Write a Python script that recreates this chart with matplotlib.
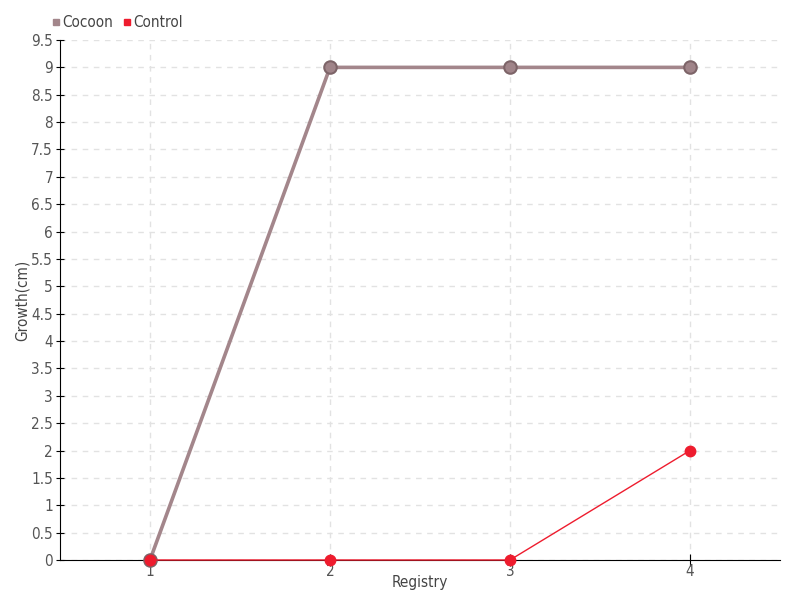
import matplotlib
matplotlib.use('Agg')
import matplotlib.pyplot as plt
from matplotlib.lines import Line2D

registry = [1, 2, 3, 4]
cocoon = [0, 9, 9, 9]
control = [0, 0, 0, 2]
yticks = [i * 0.5 for i in range(20)]

plt.rcParams['font.family'] = ['DejaVu Sans']
plt.rcParams['font.stretch'] = 'condensed'

fig = plt.figure(figsize=(8, 6), dpi=100)
ax = fig.add_axes([0.075, 0.0667, 0.9, 0.8666])

cocoon_col = '#a3868b'
control_col = '#ee1c2e'

ax.plot(registry, cocoon, color=cocoon_col, lw=2.6, marker='o', ms=9,
        mfc='#a08489', mec='#7d6468', mew=1.5, zorder=3, clip_on=False)
ax.plot(registry, control, color=control_col, lw=1, marker='o', ms=7.5,
        mfc=control_col, mec=control_col, zorder=4, clip_on=False)

ax.set_xlim(0.5, 4.5)
ax.set_ylim(0, 9.5)
ax.set_xticks(registry)
ax.set_xticklabels([str(r) for r in registry])
ax.set_yticks(yticks)
ax.set_yticklabels(['%g' % t for t in yticks])

ax.grid(True, color='#e2e2e2', linestyle=(0, (4, 4)), lw=1)
ax.set_axisbelow(True)
for s in ['top', 'right']:
    ax.spines[s].set_visible(False)
ax.spines['left'].set_color('black')
ax.spines['bottom'].set_color('black')
ax.tick_params(axis='both', colors='black', labelcolor='#555555', labelsize=11)
ax.tick_params(axis='x', direction='inout', length=8, pad=-1)
ax.tick_params(axis='y', direction='inout', length=6, pad=2)

ax.set_xlabel('Registry', color='#444444', fontsize=11, labelpad=-3)
ax.yaxis.set_label_coords(-0.042, 0.5)
ax.set_ylabel('Growth(cm)', color='#444444', fontsize=11)

handles = [
    Line2D([], [], ls='none', marker='s', ms=5, color=cocoon_col, label='Cocoon'),
    Line2D([], [], ls='none', marker='s', ms=5, color=control_col, label='Control'),
]
leg = fig.legend(handles=handles, loc='upper left', bbox_to_anchor=(0.057, 0.985),
                 ncol=2, frameon=False, fontsize=11, handletextpad=0.1,
                 columnspacing=0.6, handlelength=0.6, borderaxespad=0)
for t in leg.get_texts():
    t.set_color('#444444')

fig.savefig('out.png', dpi=100)
